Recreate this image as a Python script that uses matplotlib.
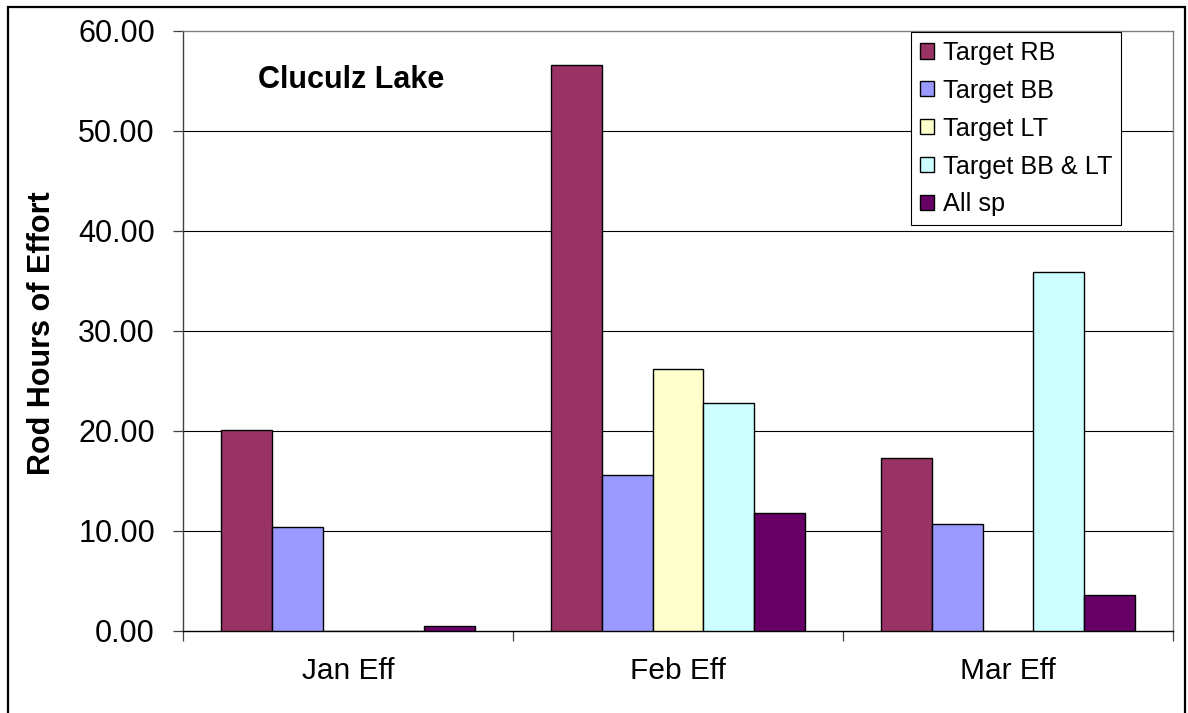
import matplotlib.pyplot as plt
import numpy as np
from matplotlib.patches import Patch, Rectangle

plt.rcParams['font.family'] = ['Liberation Sans', 'DejaVu Sans']

# Rod hours of effort per month, by target species
months = ['Jan Eff', 'Feb Eff', 'Mar Eff']
series_names = ['Target RB', 'Target BB', 'Target LT', 'Target BB & LT', 'All sp']
target_rb = [20.1, 56.6, 17.3]
target_bb = [10.4, 15.6, 10.7]
target_lt = [0.0, 26.2, 0.0]
target_bb_lt = [0.0, 22.8, 35.9]
all_sp = [0.5, 11.8, 3.6]
y_ticks = [0, 10, 20, 30, 40, 50, 60]

colors = ['#993366', '#9999FF', '#FFFFCC', '#CCFFFF', '#660066']
series = [target_rb, target_bb, target_lt, target_bb_lt, all_sp]

W, H = 1188, 713
fig = plt.figure(figsize=(W / 100, H / 100), dpi=100)
ax = fig.add_axes([183 / W, (H - 631) / H, (1173 - 183) / W, (631 - 31) / H])

x = np.arange(len(months))
bw = 1 / 6.5  # Excel-style gap width of 150%
for i, (vals, col) in enumerate(zip(series, colors)):
    ax.bar(x + (i - 2) * bw, vals, width=bw, color=col,
           edgecolor='black', linewidth=1.0, zorder=3)

ax.set_xlim(-0.5, len(months) - 0.5)
ax.set_ylim(0, 60)
ax.set_yticks(y_ticks)
ax.set_yticklabels([f'{v:.2f}' for v in y_ticks], fontsize=22)
ax.tick_params(axis='y', direction='out', length=7.2, width=0.9,
               color='#404040', pad=13)

# category labels centred, tick marks between the groups
ax.set_xticks(x)
ax.set_xticklabels(months, fontsize=21.5)
ax.tick_params(axis='x', which='major', length=0, pad=19)
ax.set_xticks(np.arange(-0.5, len(months)), minor=True)
ax.tick_params(axis='x', which='minor', direction='out', length=7.2,
               width=0.9, color='#404040')

for yv in y_ticks[1:-1]:
    ax.axhline(yv, color='black', linewidth=0.8, zorder=1)

ax.spines['top'].set_color('#808080')
ax.spines['right'].set_color('#808080')
ax.spines['left'].set_color('#404040')
ax.spines['bottom'].set_color('black')
for s in ax.spines.values():
    s.set_linewidth(1.0)

ax.set_ylabel('Rod Hours of Effort', fontsize=22, fontweight='bold')
ax.yaxis.set_label_coords(57 / W, (H - 333) / H, transform=fig.transFigure)

ax.text(258 / W, 1 - 80 / H, 'Cluculz Lake', transform=fig.transFigure,
        fontsize=22, fontweight='bold', va='center', ha='left')

handles = [Patch(facecolor=c, edgecolor='black', linewidth=1.0) for c in colors]
leg = ax.legend(handles, series_names, loc='upper left',
                bbox_to_anchor=(911 / W, 1 - 32 / H),
                bbox_transform=fig.transFigure, fontsize=18.2,
                handlelength=0.55, handleheight=0.55, handletextpad=0.35,
                labelspacing=0.55, borderpad=0.35, borderaxespad=0,
                fancybox=False, framealpha=1, edgecolor='black')
leg.get_frame().set_linewidth(0.8)
leg.set_zorder(5)

# outer chart frame
fig.patches.append(Rectangle((8 / W, -0.05), (1185 - 8) / W, 1.05 - 7 / H,
                             transform=fig.transFigure, fill=False,
                             edgecolor='black', linewidth=1.6))

fig.savefig('out.png', dpi=100)
